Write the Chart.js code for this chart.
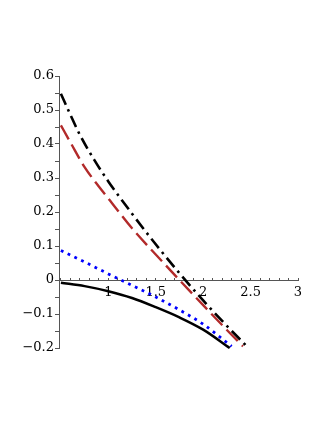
<!DOCTYPE html>
<html>
<head>
<meta charset="utf-8">
<script src="https://cdn.jsdelivr.net/npm/chart.js@4/dist/chart.umd.min.js"></script>
<style>
  html, body { margin: 0; padding: 0; background: #fff; }
  canvas { display: block; }
</style>
</head>
<body>
<canvas id="plot" width="327" height="423"></canvas>
<script>
// curve samples
const solidX = [0.5, 0.75, 1, 1.25, 1.5, 1.75, 2, 2.28];
const solidY = [-0.008, -0.018, -0.033, -0.053, -0.08, -0.11, -0.146, -0.2];

const dotX = [0.5, 0.75, 1, 1.25, 1.5, 1.75, 2, 2.3];
const dotY = [0.087, 0.053, 0.018, -0.016, -0.05, -0.088, -0.13, -0.195];

const dashX = [0.5, 0.6, 0.75, 0.9, 1, 1.25, 1.5, 1.75, 2, 2.25, 2.42];
const dashY = [0.455, 0.405, 0.332, 0.275, 0.24, 0.152, 0.075, 0.0, -0.074, -0.147, -0.195];

const dashDotX = [0.5, 0.6, 0.7, 0.85, 1, 1.25, 1.5, 1.75, 2, 2.25, 2.46];
const dashDotY = [0.548, 0.486, 0.427, 0.354, 0.29, 0.195, 0.105, 0.02, -0.06, -0.135, -0.195];

// axis ticks
const xTicks = [0.5, 0.6, 0.7, 0.8, 0.9, 1, 1.1, 1.2, 1.3, 1.4, 1.5, 1.6, 1.7, 1.8, 1.9,
                2, 2.1, 2.2, 2.3, 2.4, 2.5, 2.6, 2.7, 2.8, 2.9, 3];
const xLabelled = [1, 1.5, 2, 2.5, 3];
const yTicks = [-0.2, -0.15, -0.1, -0.05, 0, 0.05, 0.1, 0.15, 0.2, 0.25, 0.3, 0.35,
                0.4, 0.45, 0.5, 0.55, 0.6];
const yLabelled = [-0.2, -0.1, 0, 0.1, 0.2, 0.3, 0.4, 0.5, 0.6];

function pts(xs, ys) {
    return xs.map((x, i) => ({ x: x, y: ys[i] }));
}

function isIn(list, v) {
    return list.some(t => Math.abs(t - v) < 1e-6);
}

function fmt(v) {
    const s = String(Math.round(v * 100) / 100);
    return s.replace('-', '\u2212');
}

const axisColor = '#555';
const tickFont = { family: 'DejaVu Serif', size: 13 };

function curve(xs, ys, color, dash, width) {
    return {
        data: pts(xs, ys),
        borderColor: color,
        borderWidth: width,
        borderDash: dash,
        borderCapStyle: 'butt',
        showLine: true,
        pointRadius: 0,
        cubicInterpolationMode: 'monotone',
        clip: false
    };
}

new Chart(document.getElementById('plot'), {
    type: 'scatter',
    data: {
        datasets: [
            curve(solidX, solidY, '#000000', [], 2.5),
            curve(dotX, dotY, '#0000ff', [2.8, 4.7], 2.8),
            curve(dashX, dashY, '#b22a2a', [16, 6], 2.4),
            curve(dashDotX, dashDotY, '#000000', [12, 5, 2.5, 5], 2.6)
        ]
    },
    options: {
        responsive: false,
        animation: false,
        layout: { padding: { top: 76, bottom: 75, left: 0, right: 29 } },
        plugins: {
            legend: { display: false },
            tooltip: { enabled: false }
        },
        scales: {
            x: {
                type: 'linear',
                position: { y: 0 },
                min: 0.48,
                max: 3,
                afterBuildTicks: axis => { axis.ticks = xTicks.map(v => ({ value: v })); },
                grid: {
                    drawOnChartArea: false,
                    drawTicks: true,
                    tickLength: -3,
                    color: axisColor
                },
                border: { display: true, color: axisColor, width: 1 },
                ticks: {
                    autoSkip: false,
                    maxRotation: 0,
                    padding: 8,
                    color: '#000',
                    font: tickFont,
                    callback: v => isIn(xLabelled, v) ? fmt(v) : ''
                }
            },
            y: {
                type: 'linear',
                position: 'left',
                min: -0.2,
                max: 0.6,
                afterBuildTicks: axis => { axis.ticks = yTicks.map(v => ({ value: v })); },
                afterFit: axis => { axis.width = 59; },
                grid: {
                    drawOnChartArea: false,
                    drawTicks: true,
                    tickLength: 4,
                    color: axisColor
                },
                border: { display: true, color: axisColor, width: 1 },
                ticks: {
                    autoSkip: false,
                    padding: 1,
                    color: '#000',
                    font: tickFont,
                    callback: v => isIn(yLabelled, v) ? fmt(v) : ''
                }
            }
        }
    }
});
</script>
</body>
</html>
